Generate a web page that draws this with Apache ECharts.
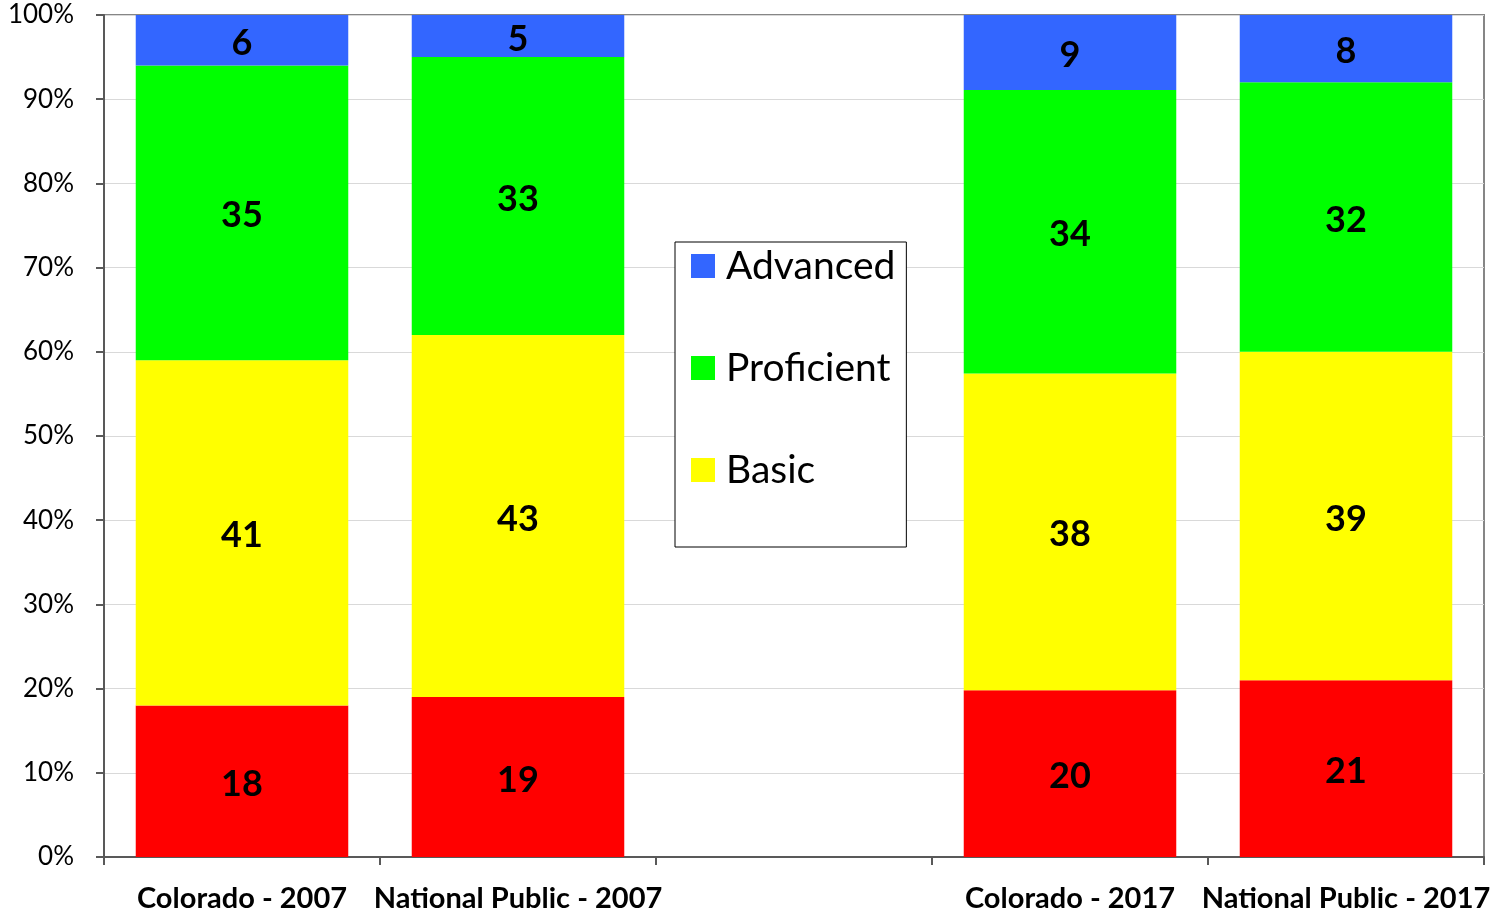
<!DOCTYPE html>
<html>
<head>
<meta charset="utf-8">
<script src="https://cdn.jsdelivr.net/npm/echarts@6/dist/echarts.min.js"></script>
<style>
  html, body { margin: 0; padding: 0; background: #fff; }
  #chart { width: 1493px; height: 912px; }
</style>
</head>
<body>
<div id="chart"></div>
<script>
// categories (middle slot left empty as in the original)
const categories = ['Colorado - 2007', 'National Public - 2007', '', 'Colorado - 2017', 'National Public - 2017']

// raw scores per level
const belowBasic = [18, 19, null, 20, 21]
const basic = [41, 43, null, 38, 39]
const proficient = [35, 33, null, 34, 32]
const advanced = [6, 5, null, 9, 8]

const yTicks = [0, 10, 20, 30, 40, 50, 60, 70, 80, 90, 100]

const font = 'Lato, "Open Sans", sans-serif'

// 100% stacked: each bar normalised to its own total
const totals = categories.map((c, i) =>
  [belowBasic, basic, proficient, advanced].reduce((s, a) => s + (a[i] || 0), 0)
)
const toPct = arr => arr.map((v, i) => (v == null ? null : { value: v * 100 / totals[i], raw: v }))

const makeSeries = (name, arr, color) => ({
  name,
  type: 'bar',
  stack: 'total',
  barWidth: '77%',
  data: toPct(arr),
  itemStyle: { color },
  label: {
    show: true,
    position: 'inside',
    offset: [0, 3],
    formatter: p => (p.data ? p.data.raw : ''),
    color: '#000',
    fontFamily: font,
    fontWeight: 'bold',
    fontSize: 36
  }
})

const chart = echarts.init(document.getElementById('chart'))

chart.setOption({
  animation: false,
  grid: {
    left: 104,
    right: 9,
    top: 15,
    bottom: 55,
    outerBoundsMode: 'none',
    containLabel: false,
    show: true,
    borderColor: '#868686',
    borderWidth: 2
  },
  legend: {
    data: ['Advanced', 'Proficient', 'Basic'],
    orient: 'vertical',
    left: 675,
    top: 242,
    itemWidth: 24,
    itemHeight: 24,
    itemGap: 62,
    icon: 'rect',
    padding: [4, 11, 57, 16],
    borderColor: '#000',
    borderWidth: 1,
    backgroundColor: '#fff',
    textStyle: {
      fontFamily: font,
      fontSize: 39,
      lineHeight: 40,
      color: '#000',
      padding: [0, 0, 0, 6]
    }
  },
  xAxis: {
    type: 'category',
    data: categories,
    axisLine: { lineStyle: { color: '#595959', width: 2 } },
    axisTick: { show: true, length: 8, lineStyle: { color: '#595959', width: 2 } },
    axisLabel: {
      interval: 0,
      margin: 27,
      color: '#000',
      fontFamily: font,
      fontWeight: 'bold',
      fontSize: 29
    }
  },
  yAxis: {
    type: 'value',
    min: 0,
    max: 100,
    interval: 10,
    axisLine: { show: true, lineStyle: { color: '#595959', width: 2 } },
    axisTick: { show: true, length: 8, lineStyle: { color: '#595959', width: 2 } },
    splitLine: { lineStyle: { color: '#d9d9d9', width: 1 } },
    axisLabel: {
      margin: 30,
      padding: [4, 0, 0, 0],
      color: '#000',
      fontFamily: font,
      fontSize: 26,
      formatter: v => (yTicks.includes(v) ? v + '%' : '')
    }
  },
  series: [
    makeSeries('Below Basic', belowBasic, '#ff0000'),
    makeSeries('Basic', basic, '#ffff00'),
    makeSeries('Proficient', proficient, '#00ff00'),
    makeSeries('Advanced', advanced, '#3366ff')
  ]
})
</script>
</body>
</html>
